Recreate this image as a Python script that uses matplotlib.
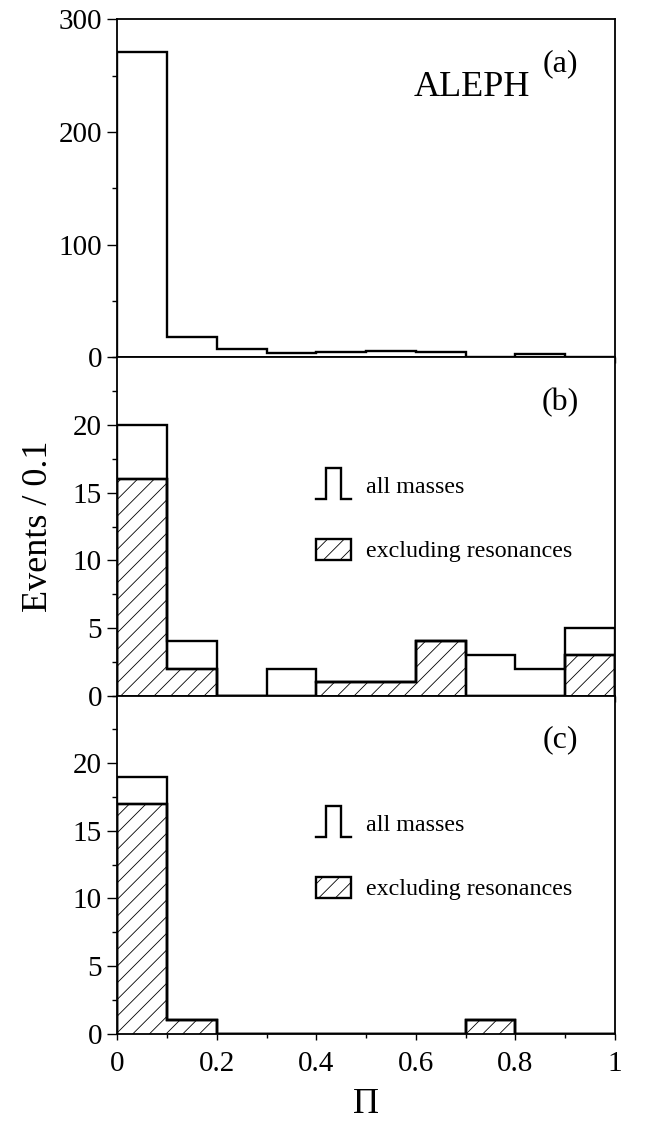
import matplotlib
matplotlib.use("Agg")
import matplotlib.pyplot as plt
from matplotlib.patches import Rectangle
from matplotlib.ticker import MultipleLocator

plt.rcParams['font.family'] = ['Liberation Serif', 'DejaVu Serif']
plt.rcParams['hatch.linewidth'] = 0.6

# bin edges in Pi
edges = [0.0, 0.1, 0.2, 0.3, 0.4, 0.5, 0.6, 0.7, 0.8, 0.9, 1.0]

# (a) ALEPH, all events
counts_a = [271, 18, 7, 4, 5, 6, 5, 0, 3, 0]
# (b) all masses / excluding resonances
counts_b_all = [20, 4, 0, 2, 1, 1, 4, 3, 2, 5]
counts_b_excl = [16, 2, 0, 0, 1, 1, 4, 0, 0, 3]
# (c) all masses / excluding resonances
counts_c_all = [19, 1, 0, 0, 0, 0, 0, 1, 0, 0]
counts_c_excl = [17, 1, 0, 0, 0, 0, 0, 1, 0, 0]

panel_tags = ["(a)", "(b)", "(c)"]

fig = plt.figure(figsize=(6.54, 11.21), dpi=100)
left, width, height = 0.1794, 0.761, 0.3016
bottoms = [0.6813, 0.3795, 0.0779]
axes = [fig.add_axes([left, b, width, height]) for b in bottoms]

LW = 1.7
FS_TICK = 21


def style_axis(ax, ymax, major, minor, show_xlabels):
    ax.set_xlim(0, 1)
    ax.set_ylim(0, ymax)
    ax.xaxis.set_major_locator(MultipleLocator(0.2))
    ax.xaxis.set_minor_locator(MultipleLocator(0.1))
    ax.yaxis.set_major_locator(MultipleLocator(major))
    ax.yaxis.set_minor_locator(MultipleLocator(minor))
    ax.tick_params(which='both', direction='out', top=False, right=False,
                   labelsize=FS_TICK, width=1.0)
    ax.tick_params(axis='y', which='major', length=7, pad=4)
    ax.tick_params(axis='y', which='minor', length=3.5)
    ax.tick_params(axis='x', which='major', length=4.5, pad=8)
    ax.tick_params(axis='x', which='minor', length=3)
    for s in ax.spines.values():
        s.set_linewidth(1.3)
    if not show_xlabels:
        ax.tick_params(axis='x', labelbottom=False)
    else:
        ax.set_xticks([0, 0.2, 0.4, 0.6, 0.8, 1.0])
        ax.set_xticklabels(["0", "0.2", "0.4", "0.6", "0.8", "1"])


def draw_legend(ax):
    # step symbol for "all masses"
    ax.plot([0.40, 0.42, 0.42, 0.45, 0.45, 0.47],
            [14.55, 14.55, 16.8, 16.8, 14.55, 14.55],
            color='black', lw=LW, solid_joinstyle='miter', clip_on=False)
    ax.text(0.50, 15.4, "all masses", fontsize=17.3, va='center', ha='left')
    ax.add_patch(Rectangle((0.40, 10.0), 0.07, 1.55, facecolor='white',
                           edgecolor='black', lw=LW, hatch='//'))
    ax.text(0.50, 10.65, "excluding resonances", fontsize=17.3,
            va='center', ha='left')


# panel (a)
ax = axes[0]
ax.stairs(counts_a, edges, color='black', lw=LW, baseline=0)
style_axis(ax, 300, 100, 50, False)
ax.text(0.712, 0.797, "ALEPH", transform=ax.transAxes, fontsize=26,
        ha='center', va='center')

# panel (b)
ax = axes[1]
ax.stairs(counts_b_excl, edges, fill=True, facecolor='white', edgecolor='black',
          hatch='//', lw=LW)
ax.stairs(counts_b_excl, edges, color='black', lw=LW, baseline=0)
ax.stairs(counts_b_all, edges, color='black', lw=LW, baseline=0)
style_axis(ax, 25, 5, 2.5, False)
ax.set_yticks([0, 5, 10, 15, 20])
draw_legend(ax)
ax.set_ylabel("Events / 0.1", fontsize=26, labelpad=13)

# panel (c)
ax = axes[2]
ax.stairs(counts_c_excl, edges, fill=True, facecolor='white', edgecolor='black',
          hatch='//', lw=LW)
ax.stairs(counts_c_excl, edges, color='black', lw=LW, baseline=0)
ax.stairs(counts_c_all, edges, color='black', lw=LW, baseline=0)
style_axis(ax, 25, 5, 2.5, True)
ax.set_yticks([0, 5, 10, 15, 20])
draw_legend(ax)
ax.set_xlabel("\u03a0", fontsize=26, labelpad=8)

for ax, tag in zip(axes, panel_tags):
    ax.text(0.89, 0.868, tag, transform=ax.transAxes, fontsize=23,
            ha='center', va='center')

fig.savefig("out.png", dpi=100)
plt.close(fig)
